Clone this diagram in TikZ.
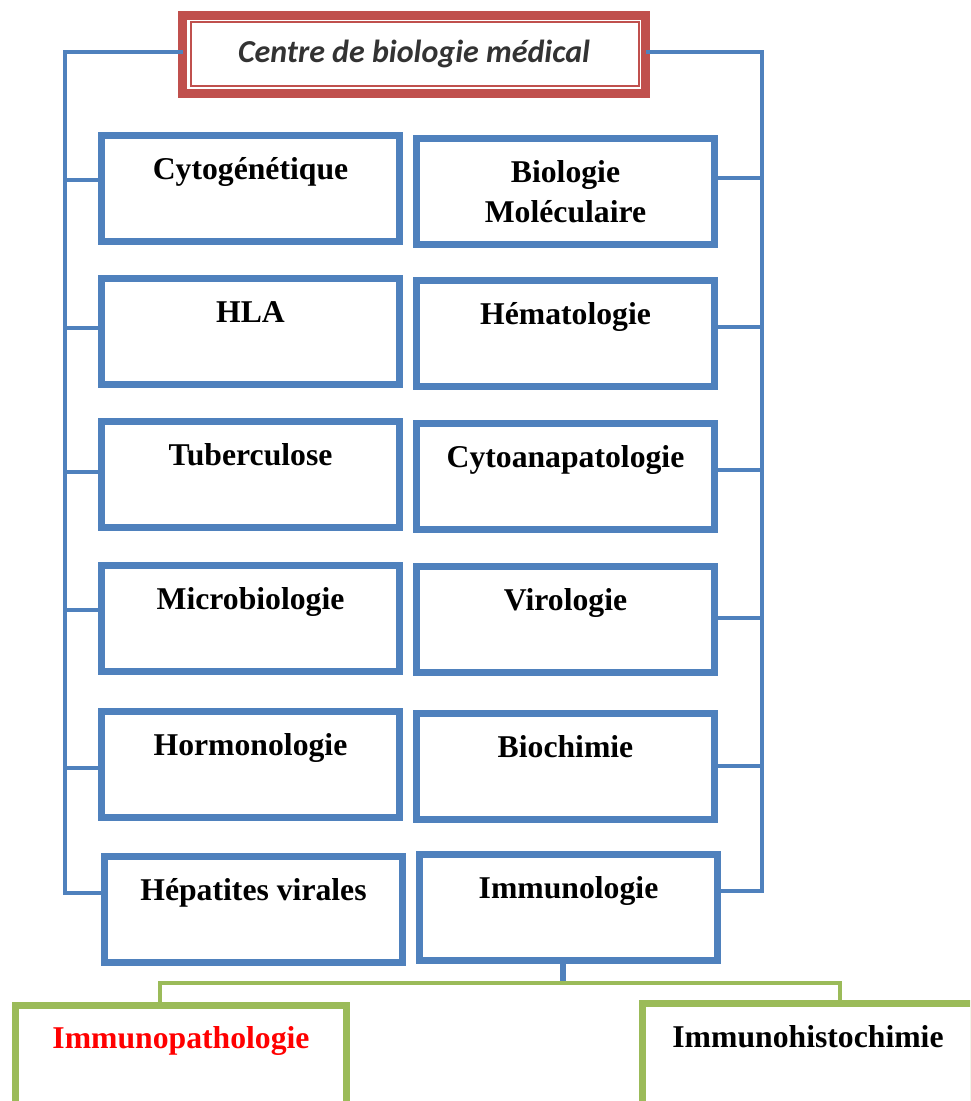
\documentclass[tikz,border=0pt]{standalone}
\usepackage{fontspec}
\setmainfont{Liberation Serif}
\newfontfamily\calibfont{Carlito}
\usetikzlibrary{calc}
\definecolor{obBlue}{HTML}{4F81BD}
\definecolor{obRed}{HTML}{C0504D}
\definecolor{obGreen}{HTML}{9BBB59}
\definecolor{topText}{HTML}{333333}
\begin{document}
\begin{tikzpicture}[x=1pt,y=1pt,
  conn/.style={draw=obBlue, line width=3.5pt},
  gconn/.style={draw=obGreen, line width=4pt},
  bbox/.style={draw=obBlue, fill=white, line width=7pt, inner sep=0pt, outer sep=0pt,
    minimum width=298pt, text height=43.5pt, text depth=62.5pt,
    font=\fontsize{31.7}{40}\selectfont\bfseries},
  gbox/.style={draw=obGreen, fill=white, line width=7pt, inner sep=0pt, outer sep=0pt,
    minimum width=331pt, font=\fontsize{31.7}{40}\selectfont\bfseries},
  topbox/.style={draw=obRed, fill=white, line width=9pt, inner sep=0pt, outer sep=0pt,
    minimum width=463pt, text height=46.8pt, text depth=31.2pt,
    font=\calibfont\bfseries\itshape\fontsize{32}{38}\selectfont, text=topText}
]
\useasboundingbox (0,0) rectangle (970,-1101);
\clip (0,0) rectangle (970,-1101);

% top box
\node[topbox] (top) at (414,-54.5) {Centre de biologie médical};
\draw[obRed, line width=2pt] ([shift={(8.5,-6.5)}]top.north west) rectangle ([shift={(-7,8)}]top.south east);

% left column
\node[bbox] (l1) at (250.5,-188.5) {Cytogénétique};
\node[bbox] (l2) at (250.5,-331.5) {HLA};
\node[bbox] (l3) at (250.5,-474.5) {Tuberculose};
\node[bbox] (l4) at (250.5,-618.5) {Microbiologie};
\node[bbox] (l5) at (250.5,-764.5) {Hormonologie};
\node[bbox] (l6) at (253.5,-909.5) {Hépatites virales};

% right column
\node[bbox] (r1) at (565.5,-191.5) {\parbox[t]{280pt}{\centering Biologie\\Moléculaire}};
\node[bbox] (r2) at (565.5,-333.5) {Hématologie};
\node[bbox] (r3) at (565.5,-476.5) {Cytoanapatologie};
\node[bbox] (r4) at (565.5,-619.5) {Virologie};
\node[bbox] (r5) at (565.5,-766.5) {Biochimie};
\node[bbox] (r6) at (568.5,-907.5) {Immunologie};

% bottom green boxes
\node[gbox, text=red, text height=42.5pt, text depth=157.5pt] (gp) at (181,-1105.5) {Immunopathologie};
\node[gbox, text height=43.5pt, text depth=156.5pt] (gh) at (808,-1103.5) {Immunohistochimie};

% buses
\coordinate (ltop) at (65,-52);
\coordinate (lbot) at (65,-893);
\coordinate (rtop) at (762,-52);
\coordinate (rbot) at (762,-891);
\draw[conn] (top.west |- ltop) -- (ltop) -- (lbot) -- (l6.west |- lbot);
\draw[conn] (top.east |- rtop) -- (rtop) -- (rbot) -- (r6.east |- rbot);

% left connectors
\draw[conn] ([yshift=8.5pt]l1.west) -- ++(-36.5,0);
\draw[conn] ([yshift=3.5pt]l2.west) -- ++(-36.5,0);
\draw[conn] ([yshift=2.5pt]l3.west) -- ++(-36.5,0);
\draw[conn] ([yshift=8.5pt]l4.west) -- ++(-36.5,0);
\draw[conn] ([yshift=-3.5pt]l5.west) -- ++(-36.5,0);

% right connectors
\draw[conn] ([yshift=13.5pt]r1.east) -- ++(47.5,0);
\draw[conn] ([yshift=6.5pt]r2.east) -- ++(47.5,0);
\draw[conn] ([yshift=6.5pt]r3.east) -- ++(47.5,0);
\draw[conn] ([yshift=1.5pt]r4.east) -- ++(47.5,0);
\draw[conn] ([yshift=0.5pt]r5.east) -- ++(47.5,0);

% immunologie to green
\coordinate (gl) at (563,-983);
\draw[obBlue, line width=5.5pt] ([xshift=-5.5pt]r6.south) -- (gl);
\draw[gconn] ([xshift=-21pt]gp.north) |- (gl) -| ([xshift=32pt]gh.north);
\end{tikzpicture}
\end{document}
